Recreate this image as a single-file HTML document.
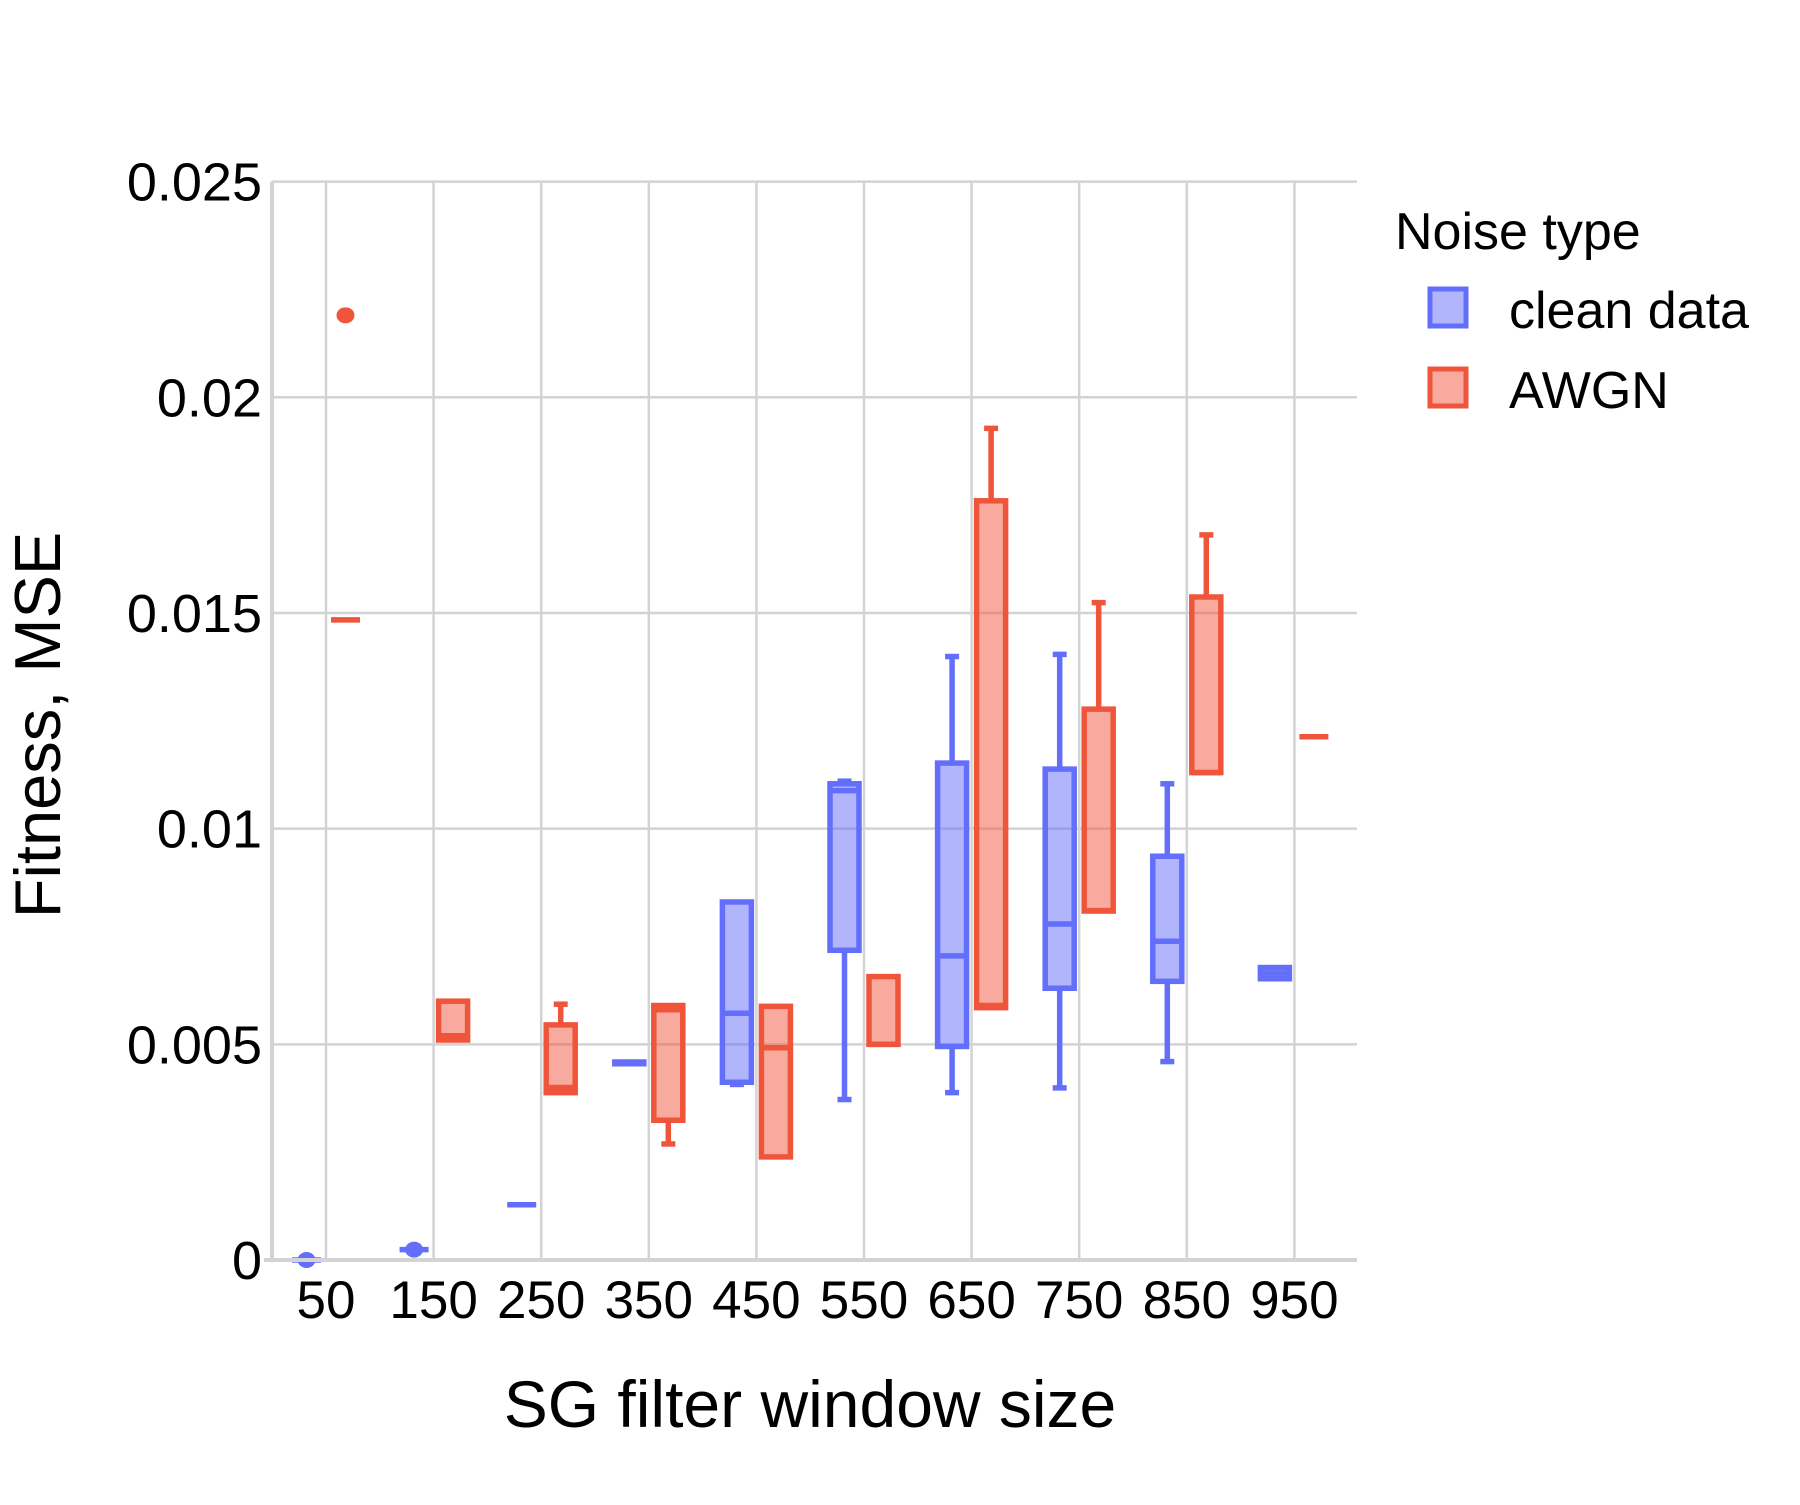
<!DOCTYPE html>
<html><head><meta charset="utf-8"><style>
body{margin:0;background:#fff;}
svg text{font-family:"Liberation Sans",sans-serif;fill:#000;}
</style></head><body>
<svg id="chart" width="1800" height="1500" xmlns="http://www.w3.org/2000/svg">
<g id="grid"></g>
<g id="marks"></g>
<g id="axes"></g>
<text x="810" y="1427" font-size="66" text-anchor="middle">SG filter window size</text>
<text transform="translate(60,725) rotate(-90)" font-size="65" text-anchor="middle">Fitness, MSE</text>
<g>
<text x="1395" y="249" font-size="52">Noise type</text>
<rect x="1430" y="289" width="36" height="37" fill="rgba(99,110,250,0.5)" stroke="#636efa" stroke-width="5"/>
<text x="1509" y="328" font-size="52">clean data</text>
<rect x="1430" y="369" width="36" height="37" fill="rgba(239,85,59,0.5)" stroke="#ef553b" stroke-width="5"/>
<text x="1509" y="408" font-size="52">AWGN</text>
</g>
</svg>
<script>
const categories=[50,150,250,350,450,550,650,750,850,950];
const yTicks=[0,0.005,0.01,0.015,0.02,0.025];
const yTickLabels=["0","0.005","0.01","0.015","0.02","0.025"];
const cleanLow=[0,0.00024,0.00128,0.00455,0.00407,0.00372,0.00388,0.00399,0.0046,0.00652];
const cleanQ1=[0,0.00024,0.00128,0.00455,0.00412,0.00718,0.00495,0.0063,0.00646,0.00652];
const cleanMed=[0,0.00024,0.00128,0.00457,0.00572,0.01088,0.00705,0.00779,0.00739,0.00665];
const cleanQ3=[0,0.00026,0.00128,0.00459,0.0083,0.01104,0.01152,0.01138,0.00936,0.00678];
const cleanHigh=[0,0.00026,0.00128,0.00459,0.0083,0.0111,0.01399,0.01404,0.01104,0.00678];
const cleanOutliers=[[0,0],[1,0.00024]];
const awgnLow=[0.01484,0.0051,0.00388,0.00269,0.00239,0.005,0.00585,0.00809,0.0113,0.01213];
const awgnQ1=[0.01484,0.0051,0.00388,0.00324,0.00239,0.005,0.00585,0.00809,0.0113,0.01213];
const awgnMed=[0.01484,0.0052,0.004,0.0058,0.00492,0.005,0.0059,0.0081,0.0113,0.01213];
const awgnQ3=[0.01484,0.006,0.00545,0.0059,0.00588,0.00657,0.0176,0.01277,0.01537,0.01213];
const awgnHigh=[0.01484,0.006,0.00593,0.0059,0.00588,0.00657,0.01928,0.01524,0.01681,0.01213];
const awgnOutliers=[[0,0.0219]];

const NS="http://www.w3.org/2000/svg";
const X0=272,X1=1357,Y0=1260,Y1=181.6;
function xScale(i){return 326+i*107.6;}
function yScale(v){return Y0-(v/0.025)*(Y0-Y1);}
function mk(tag,attrs,parent){const e=document.createElementNS(NS,tag);for(const k in attrs)e.setAttribute(k,attrs[k]);parent.appendChild(e);return e;}
const grid=document.getElementById('grid'),marks=document.getElementById('marks'),axes=document.getElementById('axes');
categories.forEach((c,i)=>{
  const l=mk('line',{x1:xScale(i),x2:xScale(i),y1:Y1,y2:Y0,stroke:'#d3d3d3','stroke-width':2.5},grid);
  
  
  const t=mk('text',{x:xScale(i),y:1318,'font-size':53,'text-anchor':'middle'},axes);
  t.textContent=c;
  
  
});
yTicks.forEach((v,i)=>{
  if(i>0){const l=mk('line',{x1:X0,x2:X1,y1:yScale(v),y2:yScale(v),stroke:'#d3d3d3','stroke-width':2.5},grid);
  
  }
  const t=mk('text',{x:262,y:yScale(v)+19,'font-size':54,'text-anchor':'end'},axes);
  t.textContent=yTickLabels[i];
  
  
});
const ya=mk('line',{x1:X0,x2:X0,y1:Y1,y2:Y0+2,stroke:'#d3d3d3','stroke-width':4},axes);


const xa=mk('line',{x1:X0-8,x2:X1,y1:Y0,y2:Y0,stroke:'#d3d3d3','stroke-width':4},axes);



function drawSeries(name,off,color,fill,lo,q1,md,q3,hi,outs){
  const W=29,cap=7,sw=5.5;
  categories.forEach((c,i)=>{
    const cx=xScale(i)+off;
    const g=mk('g',{},marks);
    
    
    mk('line',{x1:cx,x2:cx,y1:yScale(q3[i]),y2:yScale(hi[i]),stroke:color,'stroke-width':sw},g);
    mk('line',{x1:cx,x2:cx,y1:yScale(q1[i]),y2:yScale(lo[i]),stroke:color,'stroke-width':sw},g);
    if(hi[i]>q3[i]) mk('line',{x1:cx-cap,x2:cx+cap,y1:yScale(hi[i]),y2:yScale(hi[i]),stroke:color,'stroke-width':sw},g);
    if(lo[i]<q1[i]) mk('line',{x1:cx-cap,x2:cx+cap,y1:yScale(lo[i]),y2:yScale(lo[i]),stroke:color,'stroke-width':sw},g);
    const h=yScale(q1[i])-yScale(q3[i]);
    if(h>1) mk('rect',{x:cx-W/2,y:yScale(q3[i]),width:W,height:h,fill:fill,stroke:color,'stroke-width':sw},g);
    mk('line',{x1:cx-W/2,x2:cx+W/2,y1:yScale(md[i]),y2:yScale(md[i]),stroke:color,'stroke-width':sw},g);
  });
  outs.forEach(o=>{
    const p=mk('ellipse',{cx:xScale(o[0])+off,cy:yScale(o[1]),rx:9,ry:8,fill:color},marks);
    
    
  });
}
drawSeries('clean',-19.5,'#636efa','rgba(99,110,250,0.5)',cleanLow,cleanQ1,cleanMed,cleanQ3,cleanHigh,cleanOutliers);
drawSeries('awgn',19.5,'#ef553b','rgba(239,85,59,0.5)',awgnLow,awgnQ1,awgnMed,awgnQ3,awgnHigh,awgnOutliers);
</script>
</body></html>
